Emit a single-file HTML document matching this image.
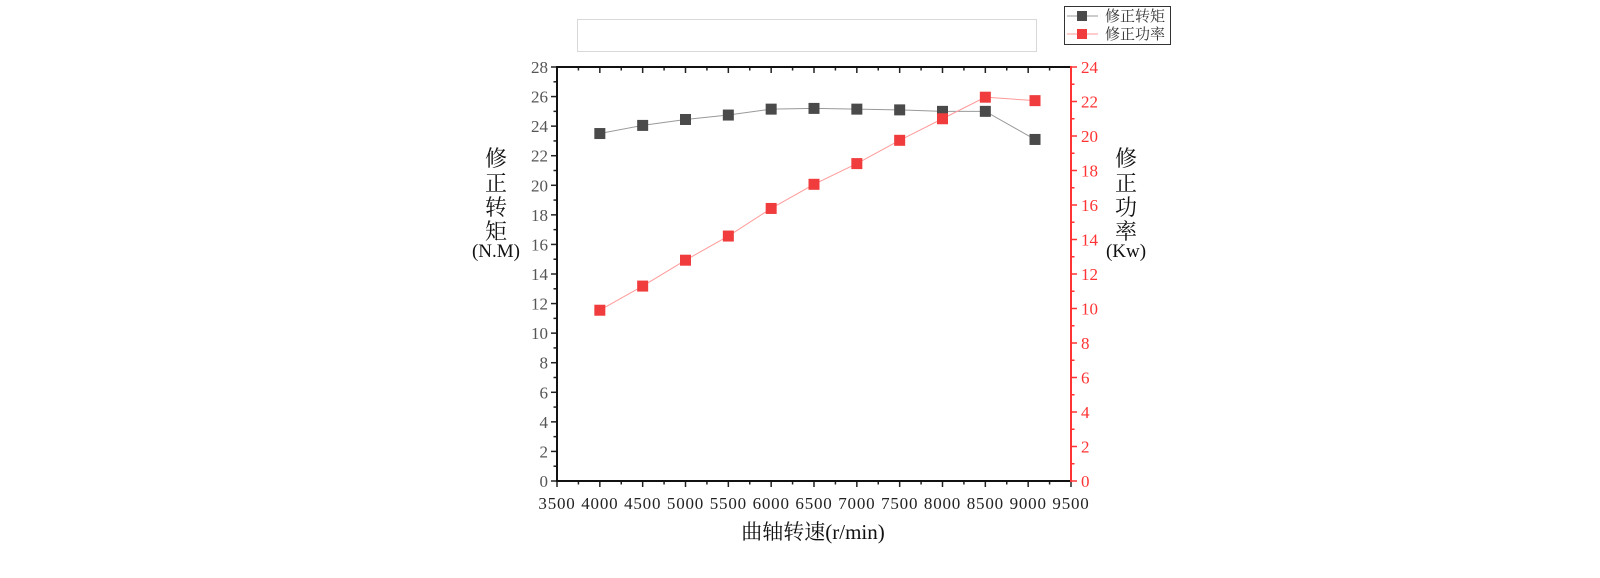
<!DOCTYPE html>
<html><head><meta charset="utf-8"><style>
html,body{margin:0;padding:0;background:#fff;}
svg{display:block;}
text{font-family:"Liberation Serif","Noto Serif CJK SC",serif;}
</style></head><body>
<svg id="s" width="1600" height="578" xmlns="http://www.w3.org/2000/svg">
<rect x="577.5" y="19.5" width="459" height="32" fill="#fff" stroke="#d8d8d8" stroke-width="1"/>
<rect x="1064.5" y="6.5" width="106" height="38" fill="#fff" stroke="#333" stroke-width="1"/>
<line x1="1067" y1="16" x2="1098" y2="16" stroke="#999" stroke-width="1"/>
<rect x="1077" y="11" width="10" height="10" fill="#4a4a4a"/>
<text x="1105" y="21" font-size="15" fill="#333">修正转矩</text>
<line x1="1067" y1="34" x2="1098" y2="34" stroke="#f99" stroke-width="1"/>
<rect x="1077" y="29" width="10" height="10" fill="#f03c3c"/>
<text x="1105" y="39" font-size="15" fill="#333">修正功率</text>
<g id="g"></g>
<g font-size="22" fill="#111" text-anchor="middle">
<text x="496" y="166">修</text><text x="496" y="191">正</text><text x="496" y="215">转</text><text x="496" y="239">矩</text>
<text x="1126" y="166">修</text><text x="1126" y="191">正</text><text x="1126" y="215">功</text><text x="1126" y="239">率</text>
<text x="813" y="539" font-size="21">曲轴转速(r/min)</text>
</g>
<g font-size="19" fill="#111" text-anchor="middle">
<text x="496" y="257">(N.M)</text>
<text x="1126" y="257">(Kw)</text>
</g>
</svg>
<script>
var L=557,R=1071,T=67,B=481,g=document.getElementById('g'),h='';
function X(v){return L+(v-3500)/6000*(R-L);}
function YL(v){return B-v/28*(B-T);}
function YR(v){return B-v/24*(B-T);}
for(var v=3500;v<=9500;v+=250){var x=X(v),maj=(v%500==0);
 h+='<line x1="'+x+'" y1="'+B+'" x2="'+x+'" y2="'+(B+(maj?6:3.5))+'" stroke="#222" stroke-width="1.5"/>';
 h+='<line x1="'+x+'" y1="'+T+'" x2="'+x+'" y2="'+(T+(maj?6:3.5))+'" stroke="#222" stroke-width="1.5"/>';
 if(maj)h+='<text x="'+x+'" y="'+(B+28)+'" font-size="17" letter-spacing="0.8" fill="#222" text-anchor="middle">'+v+'</text>';}
for(var v=0;v<=28;v++){var y=YL(v),maj=(v%2==0);
 h+='<line x1="'+L+'" y1="'+y+'" x2="'+(L-(maj?6:3.5))+'" y2="'+y+'" stroke="#222" stroke-width="1.5"/>';
 if(maj)h+='<text x="'+(L-9)+'" y="'+(y+6)+'" font-size="17" fill="#555" text-anchor="end">'+v+'</text>';}
for(var v=0;v<=24;v++){var y=YR(v),maj=(v%2==0);
 h+='<line x1="'+R+'" y1="'+y+'" x2="'+(R+(maj?6:3.5))+'" y2="'+y+'" stroke="#f33" stroke-width="1.5"/>';
 if(maj)h+='<text x="'+(R+10)+'" y="'+(y+6)+'" font-size="17" fill="#f33">'+v+'</text>';}
h+='<line x1="'+L+'" y1="'+T+'" x2="'+R+'" y2="'+T+'" stroke="#111" stroke-width="2"/>';
h+='<line x1="'+L+'" y1="'+B+'" x2="'+R+'" y2="'+B+'" stroke="#111" stroke-width="2"/>';
h+='<line x1="'+L+'" y1="'+(T-1)+'" x2="'+L+'" y2="'+(B+1)+'" stroke="#111" stroke-width="2"/>';
h+='<line x1="'+R+'" y1="'+(T-1)+'" x2="'+R+'" y2="'+(B+1)+'" stroke="#f33" stroke-width="2"/>';
var xs=[4000,4500,5000,5500,6000,6500,7000,7500,8000,8500,9080];
var tq=[23.5,24.05,24.45,24.75,25.15,25.2,25.15,25.1,25.0,25.0,23.1];
var pw=[9.9,11.3,12.8,14.2,15.8,17.2,18.4,19.75,21.0,22.25,22.05];
function series(d,fy,lc,fc){var p='';for(var i=0;i<xs.length;i++)p+=X(xs[i])+','+fy(d[i])+' ';
 h+='<polyline points="'+p+'" fill="none" stroke="'+lc+'" stroke-width="1"/>';
 for(var i=0;i<xs.length;i++)h+='<rect x="'+(X(xs[i])-5.5)+'" y="'+(fy(d[i])-5.5)+'" width="11" height="11" fill="'+fc+'"/>';}
series(tq,YL,'#999','#4a4a4a');
series(pw,YR,'#f99','#f03c3c');
g.innerHTML=h;
</script>
</body></html>
